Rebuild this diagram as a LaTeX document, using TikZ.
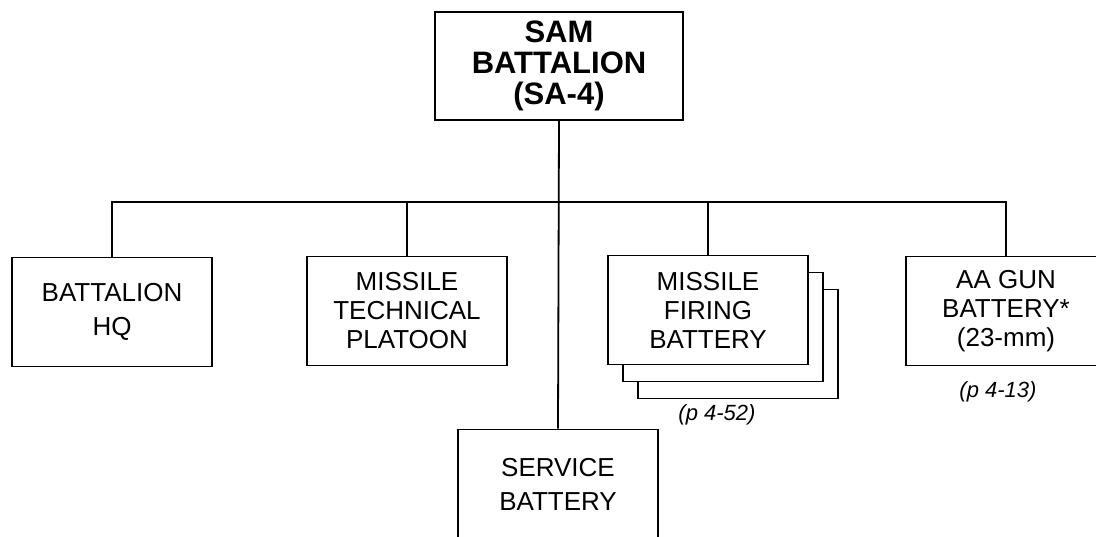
\documentclass[tikz,border=0pt]{standalone}
\usepackage{fontspec}
\setmainfont{Liberation Sans}
\begin{document}
\begin{tikzpicture}[x=1pt,y=-1pt,line width=1.8pt,
  unit/.style={draw, fill=white, rectangle, align=center, inner sep=0pt,
    minimum width=200pt, minimum height=109pt, font=\fontsize{26}{29}\selectfont},
  two/.style={font=\fontsize{26}{34}\selectfont},
  top/.style={font=\bfseries\fontsize{31}{31}\selectfont, minimum width=248pt, minimum height=108pt},
  pageref/.style={font=\fontsize{22}{24}\selectfont\itshape},
  link/.style={line width=1.8pt}]
\useasboundingbox (0,0) rectangle (1096,536);
\fill[white] (0,0) rectangle (1096,536);
\node[unit, top] (sam) at (559,66) {SAM\\BATTALION\\(SA-4)};
\node[unit, two] (hq) at (112,312) {BATTALION\\HQ};
\node[unit] (tech) at (407,311) {MISSILE\\TECHNICAL\\PLATOON};
\node[unit] (fire3) at (738,344) {};
\node[unit] (fire2) at (723,327) {};
\node[unit] (fire) at (708,310) {MISSILE\\FIRING\\BATTERY};
\node[unit] (aa) at (1006,311) {AA GUN\\BATTERY*\\(23-mm)};
\node[unit, two] (svc) at (558,484) {SERVICE\\BATTERY};
\node[pageref] (r1) at (717,415) {(p 4-52)};
\node[pageref] (r2) at (998,392) {(p 4-13)};
\coordinate (bus) at (0,202);
\draw[link] (hq.north) -- (hq.north |- bus) -- (aa.north |- bus) -- (aa.north);
\draw[link] (sam.south) -- (svc.north);
\draw[link] (tech.north) -- (tech.north |- bus);
\draw[link] (fire.north) -- (fire.north |- bus);
\end{tikzpicture}
\end{document}
